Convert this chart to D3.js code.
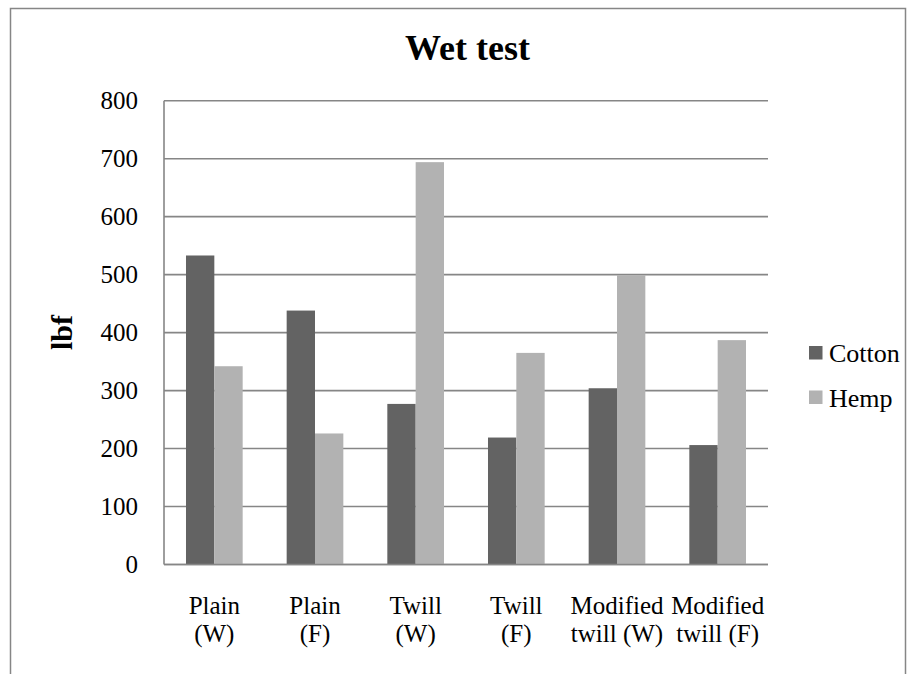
<!DOCTYPE html>
<html><head><meta charset="utf-8">
<script src="https://cdn.jsdelivr.net/npm/d3@7"></script>
<style>body{margin:0;background:#fff}svg{display:block}text{font-family:"Liberation Serif","Times New Roman",serif;fill:#000}</style>
</head><body>
<script>
const categories = [["Plain","(W)"],["Plain","(F)"],["Twill","(W)"],["Twill","(F)"],["Modified","twill (W)"],["Modified","twill (F)"]];
const seriesNames = ["Cotton","Hemp"];
const cotton = [533, 438, 277, 219, 304, 206];
const hemp = [342, 226, 694, 365, 499, 387];
const yTicks = [0,100,200,300,400,500,600,700,800];
const colors = ["#636363","#b2b2b2"];

(function(){
const W=916,H=674;
const svg=d3.select("body").append("svg").attr("width",W).attr("height",H);
svg.append("path").attr("d","M10.5,700 V8.5 H905.5 V700").attr("fill","none").attr("stroke","#868686").attr("stroke-width",1.5);

const pL=164,pR=768,pT=100.7,pB=564.5;
const x=d3.scaleBand().domain(d3.range(categories.length)).range([pL,pR]).padding(0);
const y=d3.scaleLinear().domain([0,800]).range([pB,pT]);
const barW=x.bandwidth()*0.2815;

svg.append("g").selectAll("line").data(yTicks).join("line")
 .attr("x1",pL).attr("x2",pR).attr("y1",d=>y(d)).attr("y2",d=>y(d))
 .attr("stroke","#868686").attr("stroke-width",1.6);

const data=[cotton,hemp];
data.forEach((vals,s)=>{
 svg.append("g").selectAll("rect").data(vals).join("rect")
  .attr("x",(d,i)=>x(i)+x.bandwidth()/2-barW+s*barW)
  .attr("width",barW)
  .attr("y",d=>y(d)).attr("height",d=>pB-y(d))
  .attr("fill",colors[s]);
});

svg.append("line").attr("x1",pL).attr("x2",pL).attr("y1",pT).attr("y2",pB).attr("stroke","#868686").attr("stroke-width",1.6);
svg.append("line").attr("x1",pL).attr("x2",pR).attr("y1",pB).attr("y2",pB).attr("stroke","#868686").attr("stroke-width",1.6);

svg.append("g").selectAll("text").data(yTicks).join("text")
 .attr("x",138).attr("y",d=>y(d)+8.5).attr("text-anchor","end").attr("font-size",25).text(d=>d);

const xl=svg.append("g").selectAll("text").data(categories).join("text")
 .attr("x",(d,i)=>x(i)+x.bandwidth()/2).attr("y",614).attr("text-anchor","middle").attr("font-size",25);
xl.selectAll("tspan").data(d=>d).join("tspan")
 .attr("x",function(){return d3.select(this.parentNode).attr("x");})
 .attr("dy",(d,j)=>j===0?0:27.5).text(d=>d);

svg.append("text").attr("x",467.5).attr("y",60).attr("text-anchor","middle").attr("font-size",36).attr("font-weight","bold").text("Wet test");

svg.append("text").attr("transform","translate(71.5,332.5) rotate(-90)").attr("text-anchor","middle").attr("font-size",30).attr("font-weight","bold").text("lbf");

const lg=svg.append("g").selectAll("g").data(seriesNames).join("g").attr("transform",(d,i)=>`translate(809,${346+i*44.5})`);
lg.append("rect").attr("width",13.5).attr("height",13.5).attr("fill",(d,i)=>colors[i]);
lg.append("text").attr("x",20).attr("y",16).attr("font-size",26).text(d=>d);
})();
</script>
</body></html>
